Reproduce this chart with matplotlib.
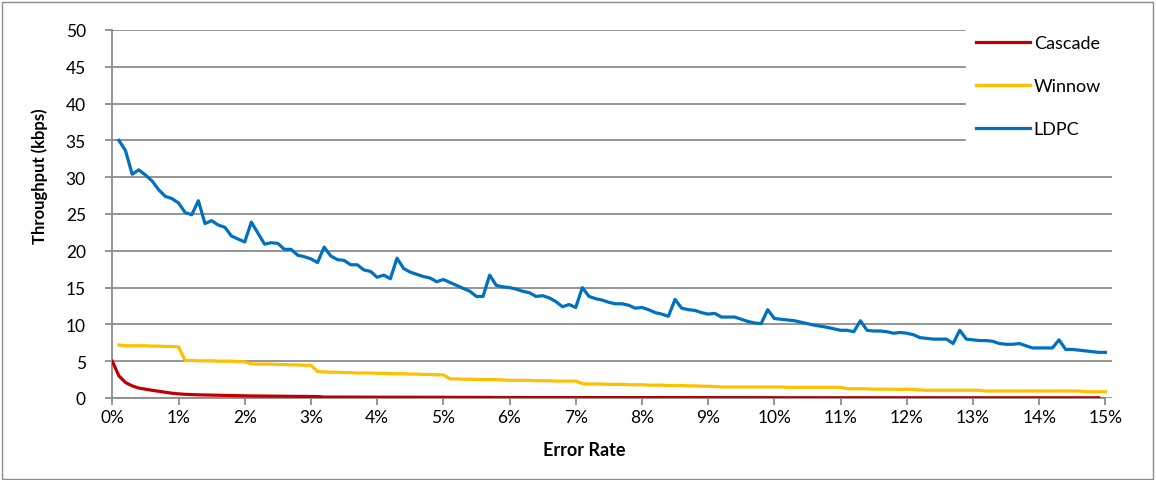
import numpy as np
import matplotlib
matplotlib.use("Agg")
import matplotlib.pyplot as plt
from matplotlib.patches import Rectangle

plt.rcParams['font.family'] = ['Lato', 'DejaVu Sans']

# ---- data ----
series_names = ["Cascade", "Winnow", "LDPC"]
series_colors = ["#C00000", "#FFC000", "#0070C0"]

# error rate (%) categories
cascade_x = np.arange(0, 150) / 10.0      # 0.0 .. 14.9
other_x = np.arange(1, 151) / 10.0        # 0.1 .. 15.0

cascade = [
    5.0, 3.0, 2.1, 1.65, 1.35, 1.2, 1.05, 0.92, 0.78, 0.65,
    0.56, 0.5, 0.46, 0.43, 0.41, 0.39, 0.37, 0.35, 0.33, 0.31,
    0.29, 0.28, 0.27, 0.26, 0.25, 0.24, 0.23, 0.23, 0.22, 0.22,
    0.21, 0.2, 0.13, 0.13, 0.12, 0.12, 0.12, 0.12, 0.11, 0.11,
    0.11, 0.11, 0.1, 0.1, 0.1, 0.1, 0.1, 0.1, 0.1, 0.1,
    0.09, 0.09, 0.09, 0.09, 0.09, 0.09, 0.09, 0.08, 0.06, 0.06,
    0.06, 0.06, 0.06, 0.06, 0.06, 0.06, 0.06, 0.06, 0.06, 0.06,
    0.05, 0.05, 0.05, 0.05, 0.05, 0.05, 0.05, 0.05, 0.05, 0.05,
    0.05, 0.05, 0.05, 0.05, 0.05, 0.05, 0.05, 0.05, 0.05, 0.05,
    0.05, 0.05, 0.05, 0.05, 0.05, 0.05, 0.05, 0.05, 0.05, 0.05,
    0.04, 0.04, 0.04, 0.04, 0.04, 0.04, 0.04, 0.04, 0.04, 0.04,
    0.04, 0.04, 0.04, 0.04, 0.04, 0.04, 0.04, 0.04, 0.04, 0.04,
    0.04, 0.04, 0.04, 0.04, 0.04, 0.04, 0.04, 0.04, 0.04, 0.04,
    0.03, 0.03, 0.03, 0.03, 0.03, 0.03, 0.03, 0.03, 0.03, 0.03,
    0.03, 0.03, 0.03, 0.03, 0.03, 0.03, 0.03, 0.03, 0.03, 0.03,
]

winnow = [
    7.2, 7.1, 7.1, 7.1, 7.1, 7.05, 7.05, 7.0, 7.0, 6.95,
    5.1, 5.1, 5.05, 5.05, 5.05, 5.0, 5.0, 5.0, 4.95, 4.9,
    4.65, 4.6, 4.6, 4.6, 4.55, 4.55, 4.5, 4.5, 4.45, 4.45,
    3.6, 3.55, 3.5, 3.5, 3.45, 3.45, 3.4, 3.4, 3.4, 3.35,
    3.35, 3.3, 3.3, 3.3, 3.25, 3.25, 3.2, 3.2, 3.15, 3.15,
    2.6, 2.6, 2.55, 2.55, 2.5, 2.5, 2.5, 2.5, 2.45, 2.4,
    2.4, 2.4, 2.4, 2.35, 2.35, 2.35, 2.3, 2.3, 2.3, 2.3,
    1.95, 1.9, 1.9, 1.9, 1.85, 1.85, 1.85, 1.8, 1.8, 1.8,
    1.75, 1.75, 1.75, 1.7, 1.7, 1.7, 1.65, 1.65, 1.6, 1.6,
    1.55, 1.5, 1.5, 1.5, 1.5, 1.5, 1.5, 1.5, 1.5, 1.5,
    1.5, 1.45, 1.45, 1.45, 1.45, 1.45, 1.45, 1.45, 1.45, 1.45,
    1.25, 1.25, 1.25, 1.25, 1.2, 1.2, 1.2, 1.2, 1.15, 1.2,
    1.15, 1.1, 1.05, 1.05, 1.05, 1.05, 1.05, 1.05, 1.05, 1.05,
    1.05, 0.95, 0.95, 0.95, 0.95, 0.95, 0.95, 0.95, 0.95, 0.95,
    0.95, 0.95, 0.95, 0.95, 0.95, 0.95, 0.85, 0.85, 0.85, 0.85,
]

ldpc = [
    35.0, 33.6, 30.4, 31.0, 30.3, 29.5, 28.3, 27.4, 27.1, 26.5,
    25.2, 24.9, 26.8, 23.7, 24.1, 23.5, 23.2, 22.0, 21.6, 21.2,
    23.9, 22.4, 20.9, 21.1, 21.0, 20.2, 20.2, 19.4, 19.2, 18.9,
    18.4, 20.5, 19.3, 18.8, 18.7, 18.1, 18.1, 17.4, 17.2, 16.4,
    16.7, 16.2, 19.0, 17.6, 17.1, 16.8, 16.5, 16.3, 15.8, 16.1,
    15.7, 15.3, 14.9, 14.5, 13.8, 13.8, 16.7, 15.3, 15.1, 15.0,
    14.8, 14.5, 14.3, 13.8, 13.9, 13.6, 13.1, 12.4, 12.7, 12.3,
    15.0, 13.8, 13.5, 13.3, 13.0, 12.8, 12.8, 12.6, 12.2, 12.3,
    12.0, 11.6, 11.4, 11.1, 13.4, 12.2, 12.0, 11.9, 11.6, 11.4,
    11.5, 11.0, 11.0, 11.0, 10.7, 10.4, 10.2, 10.1, 12.0, 10.8,
    10.7, 10.6, 10.5, 10.3, 10.1, 9.9, 9.75, 9.6, 9.4, 9.2,
    9.2, 9.0, 10.5, 9.2, 9.1, 9.1, 9.0, 8.8, 8.9, 8.8,
    8.6, 8.2, 8.1, 8.0, 8.0, 8.0, 7.4, 9.2, 8.0, 7.9,
    7.8, 7.8, 7.7, 7.4, 7.3, 7.3, 7.4, 7.1, 6.8, 6.8,
    6.8, 6.8, 7.9, 6.6, 6.6, 6.5, 6.4, 6.3, 6.2, 6.2,
]

x_ticks = list(range(0, 16))
x_tick_labels = [f"{t}%" for t in x_ticks]
y_ticks = [0, 5, 10, 15, 20, 25, 30, 35, 40, 45, 50]
y_tick_labels = [str(t) for t in y_ticks]

# ---- figure ----
W, H = 1156, 481
fig = plt.figure(figsize=(W / 100, H / 100), dpi=100)
left, right, top, bottom = 112.3, 1112.0, 31.0, 399.0
aw, ah = right - left, bottom - top
ax = fig.add_axes([left / W, 1 - bottom / H, aw / W, ah / H])

grid_color = "#8C8C8C"
ax.set_xlim(0, 15.1)
ax.set_ylim(0, 50)
ax.set_yticks(y_ticks)
ax.set_yticklabels(y_tick_labels)
ax.set_xticks(x_ticks)
ax.set_xticklabels(x_tick_labels)
ax.yaxis.grid(True, color=grid_color, linewidth=1.3)
ax.set_axisbelow(True)
for s in ["top", "right"]:
    ax.spines[s].set_visible(False)
for s in ["left", "bottom"]:
    ax.spines[s].set_color(grid_color)
    ax.spines[s].set_linewidth(1.3)
ax.spines["bottom"].set_bounds(0, 15)
ax.tick_params(axis="both", colors=grid_color, length=5, width=1.3,
               labelcolor="black", labelsize=12.5)
ax.tick_params(axis="y", pad=14)
ax.tick_params(axis="x", pad=3)

lw = 2.3
ax.plot(cascade_x, cascade, color=series_colors[0], lw=lw, label=series_names[0],
        solid_joinstyle="round", zorder=3)
ax.plot(other_x, winnow, color=series_colors[1], lw=lw, label=series_names[1],
        solid_joinstyle="round", zorder=3)
ax.plot(other_x, ldpc, color=series_colors[2], lw=lw, label=series_names[2],
        solid_joinstyle="round", zorder=3)

ax.set_xlabel("Error Rate", fontsize=13, fontweight="bold")
ax.xaxis.set_label_coords((584 - left) / aw, (bottom - 451) / ah)
ax.xaxis.label.set_va("center")
ax.set_ylabel("Throughput (kbps)", fontsize=12, fontweight="bold")
ax.yaxis.set_label_coords((40 - left) / aw, (bottom - 176) / ah)
ax.yaxis.label.set_va("center")

leg = ax.legend(loc="upper left", bbox_to_anchor=(966 / W, 1 - 26 / H),
                bbox_transform=fig.transFigure, frameon=True, fontsize=13,
                handlelength=3.0, handletextpad=0.2, labelspacing=1.5,
                borderpad=0.55, borderaxespad=0)
leg.get_frame().set_facecolor("white")
leg.get_frame().set_edgecolor("white")
leg.get_frame().set_alpha(1)
leg.set_zorder(5)

# outer frame of the chart
fig.patches.append(Rectangle((1.5 / W, 1.5 / H), (W - 5) / W, (H - 4) / H,
                             transform=fig.transFigure, fill=False,
                             edgecolor="#8C8C8C", linewidth=1.0))

fig.savefig("out.png", dpi=100, facecolor="white")
